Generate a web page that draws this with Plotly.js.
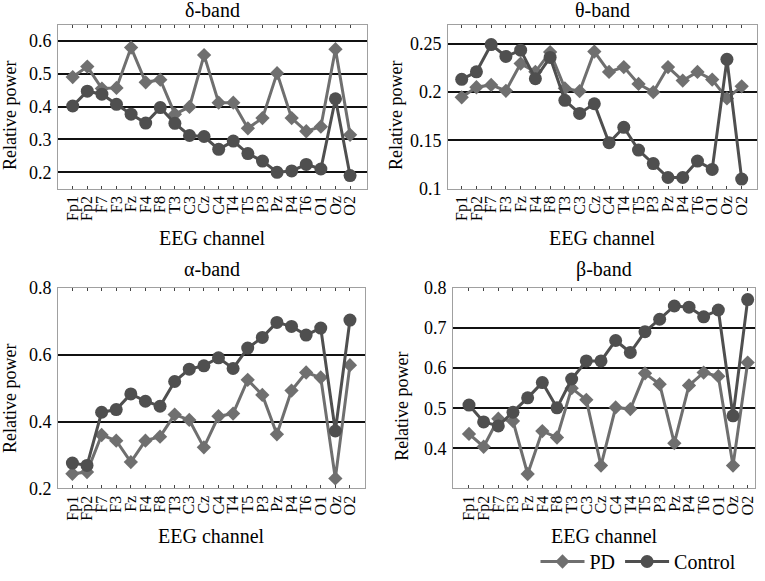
<!DOCTYPE html>
<html>
<head>
<meta charset="utf-8">
<script src="https://cdn.plot.ly/plotly-3.0.1.min.js"></script>
<style>html,body{margin:0;padding:0;background:#fff;overflow:hidden;}#chart{width:765px;height:581px;}</style>
</head>
<body>
<div id="chart"></div>
<script>
const channels = ["Fp1","Fp2","F7","F3","Fz","F4","F8","T3","C3","Cz","C4","T4","T5","P3","Pz","P4","T6","O1","Oz","O2"];
const seriesNames = ["PD","Control"];
const bandTitles = ["δ-band","θ-band","α-band","β-band"];

const deltaPD      = [0.490,0.522,0.455,0.457,0.580,0.474,0.482,0.377,0.399,0.557,0.412,0.412,0.334,0.365,0.502,0.365,0.325,0.339,0.575,0.314];
const deltaControl = [0.402,0.447,0.438,0.407,0.377,0.350,0.397,0.349,0.312,0.309,0.270,0.295,0.257,0.234,0.200,0.204,0.224,0.210,0.424,0.190];

const thetaPD      = [0.1946,0.2051,0.2075,0.2014,0.2296,0.2211,0.2415,0.2040,0.2010,0.2420,0.2210,0.2260,0.2085,0.2000,0.2260,0.2120,0.2210,0.2130,0.1935,0.2060];
const thetaControl = [0.2133,0.2211,0.2493,0.2370,0.2435,0.2140,0.2360,0.1915,0.1780,0.1880,0.1476,0.1636,0.1400,0.1260,0.1116,0.1116,0.1286,0.1200,0.2340,0.1100];

const alphaPD      = [0.244,0.249,0.360,0.343,0.279,0.343,0.355,0.421,0.405,0.323,0.416,0.424,0.525,0.480,0.362,0.493,0.547,0.532,0.230,0.569];
const alphaControl = [0.276,0.269,0.428,0.436,0.483,0.461,0.446,0.520,0.557,0.567,0.591,0.559,0.620,0.652,0.697,0.685,0.659,0.680,0.372,0.704];

const betaPD       = [0.436,0.404,0.474,0.468,0.336,0.443,0.427,0.550,0.521,0.357,0.502,0.498,0.587,0.560,0.413,0.557,0.589,0.580,0.357,0.614];
const betaControl  = [0.508,0.466,0.456,0.490,0.526,0.564,0.501,0.573,0.618,0.618,0.669,0.639,0.691,0.722,0.755,0.752,0.728,0.745,0.481,0.771];

const yTicks = [
  [0.2,0.3,0.4,0.5,0.6],
  [0.1,0.15,0.2,0.25],
  [0.2,0.4,0.6,0.8],
  [0.4,0.5,0.6,0.7,0.8]
];
const yTickText = [
  ["0.2","0.3","0.4","0.5","0.6"],
  ["0.1","0.15","0.2","0.25"],
  ["0.2","0.4","0.6","0.8"],
  ["0.4","0.5","0.6","0.7","0.8"]
];

const pdData = [deltaPD, thetaPD, alphaPD, betaPD];
const ctData = [deltaControl, thetaControl, alphaControl, betaControl];

const FONT = "Liberation Serif";
const pdColor = "#6f6f6f";
const ctColor = "#4f4f4f";

const traces = [];
for (let i = 0; i < 4; i++) {
  const xa = i === 0 ? "x" : "x" + (i + 1);
  const ya = i === 0 ? "y" : "y" + (i + 1);
  traces.push({
    x: channels, y: pdData[i], xaxis: xa, yaxis: ya, type: "scatter", mode: "lines+markers",
    name: seriesNames[0], legendgroup: "pd", showlegend: i === 0,
    line: {color: pdColor, width: 3},
    marker: {symbol: "diamond", size: 11, color: pdColor}
  });
  traces.push({
    x: channels, y: ctData[i], xaxis: xa, yaxis: ya, type: "scatter", mode: "lines+markers",
    name: seriesNames[1], legendgroup: "ct", showlegend: i === 0,
    line: {color: ctColor, width: 3},
    marker: {symbol: "circle", size: 13, color: ctColor}
  });
}

const W = 765, H = 581;
const boxes = [
  [58, 367, 25, 192],
  [448, 757, 25, 192],
  [58, 365, 293, 497],
  [453, 755, 293, 497]
];
const xRanges = [[-1.007, 20.16], [-0.93, 20.04], [-0.986, 20.03], [-1.09, 19.5]];
const yRanges = [[0.15, 0.65], [0.1, 0.27], [0.2, 0.8], [0.3, 0.8]];

const layout = {
  width: W, height: H,
  margin: {l: 0, r: 0, t: 0, b: 0},
  paper_bgcolor: "#fff", plot_bgcolor: "#fff",
  font: {family: FONT, color: "#000", size: 16},
  showlegend: true,
  legend: {
    orientation: "h", x: 0.700, y: 0.016, xanchor: "left", yanchor: "middle",
    font: {family: FONT, size: 20, color: "#000"},
    itemwidth: 44, bgcolor: "rgba(0,0,0,0)", tracegroupgap: 0
  },
  annotations: []
};

for (let i = 0; i < 4; i++) {
  const b = boxes[i];
  const sfx = i === 0 ? "" : String(i + 1);
  layout["xaxis" + sfx] = {
    domain: [b[0] / W, b[1] / W],
    anchor: "y" + sfx,
    type: "category",
    range: xRanges[i],
    tickmode: "array", tickvals: channels, ticktext: channels,
    tickangle: -90,
    tickfont: {family: FONT, size: 16, color: "#000"},
    ticks: "inside", ticklen: 3, tickwidth: 1, tickcolor: "#444",
    showline: true, linecolor: "#a0a0a0", linewidth: 1, mirror: "ticks",
    showgrid: false, zeroline: false, fixedrange: true
  };
  layout["yaxis" + sfx] = {
    domain: [1 - b[3] / H, 1 - b[2] / H],
    anchor: "x" + sfx,
    range: yRanges[i],
    tickmode: "array", tickvals: yTicks[i], ticktext: yTickText[i],
    tickfont: {family: FONT, size: 18, color: "#000"},
    ticks: "", ticklabelstandoff: 2,
    showline: true, linecolor: "#a0a0a0", linewidth: 1, mirror: true,
    showgrid: true, gridcolor: "#111", gridwidth: 2,
    zeroline: false, fixedrange: true
  };
  const cx = (b[0] + b[1]) / 2;
  layout.annotations.push({
    text: bandTitles[i], xref: "paper", yref: "paper",
    x: cx / W, y: 1 - (i < 2 ? 10 : 274) / H, xanchor: "center", yanchor: "middle",
    showarrow: false, font: {family: FONT, size: 20, color: "#000"}
  });
  layout.annotations.push({
    text: "EEG channel", xref: "paper", yref: "paper",
    x: cx / W, y: 1 - (i < 2 ? 242 : 545) / H, xanchor: "center", yanchor: "middle",
    showarrow: false, font: {family: FONT, size: 20, color: "#000"}
  });
  const yx = [10, 396, 10, 402][i];
  const yy = [118, 118, 406, 414][i];
  layout.annotations.push({
    text: "Relative power", xref: "paper", yref: "paper",
    x: yx / W, y: 1 - yy / H, xanchor: "center", yanchor: "middle", textangle: -90,
    showarrow: false, font: {family: FONT, size: 18, color: "#000"}
  });
}

Plotly.newPlot("chart", traces, layout, {displayModeBar: false, staticPlot: true});
</script>
</body>
</html>
